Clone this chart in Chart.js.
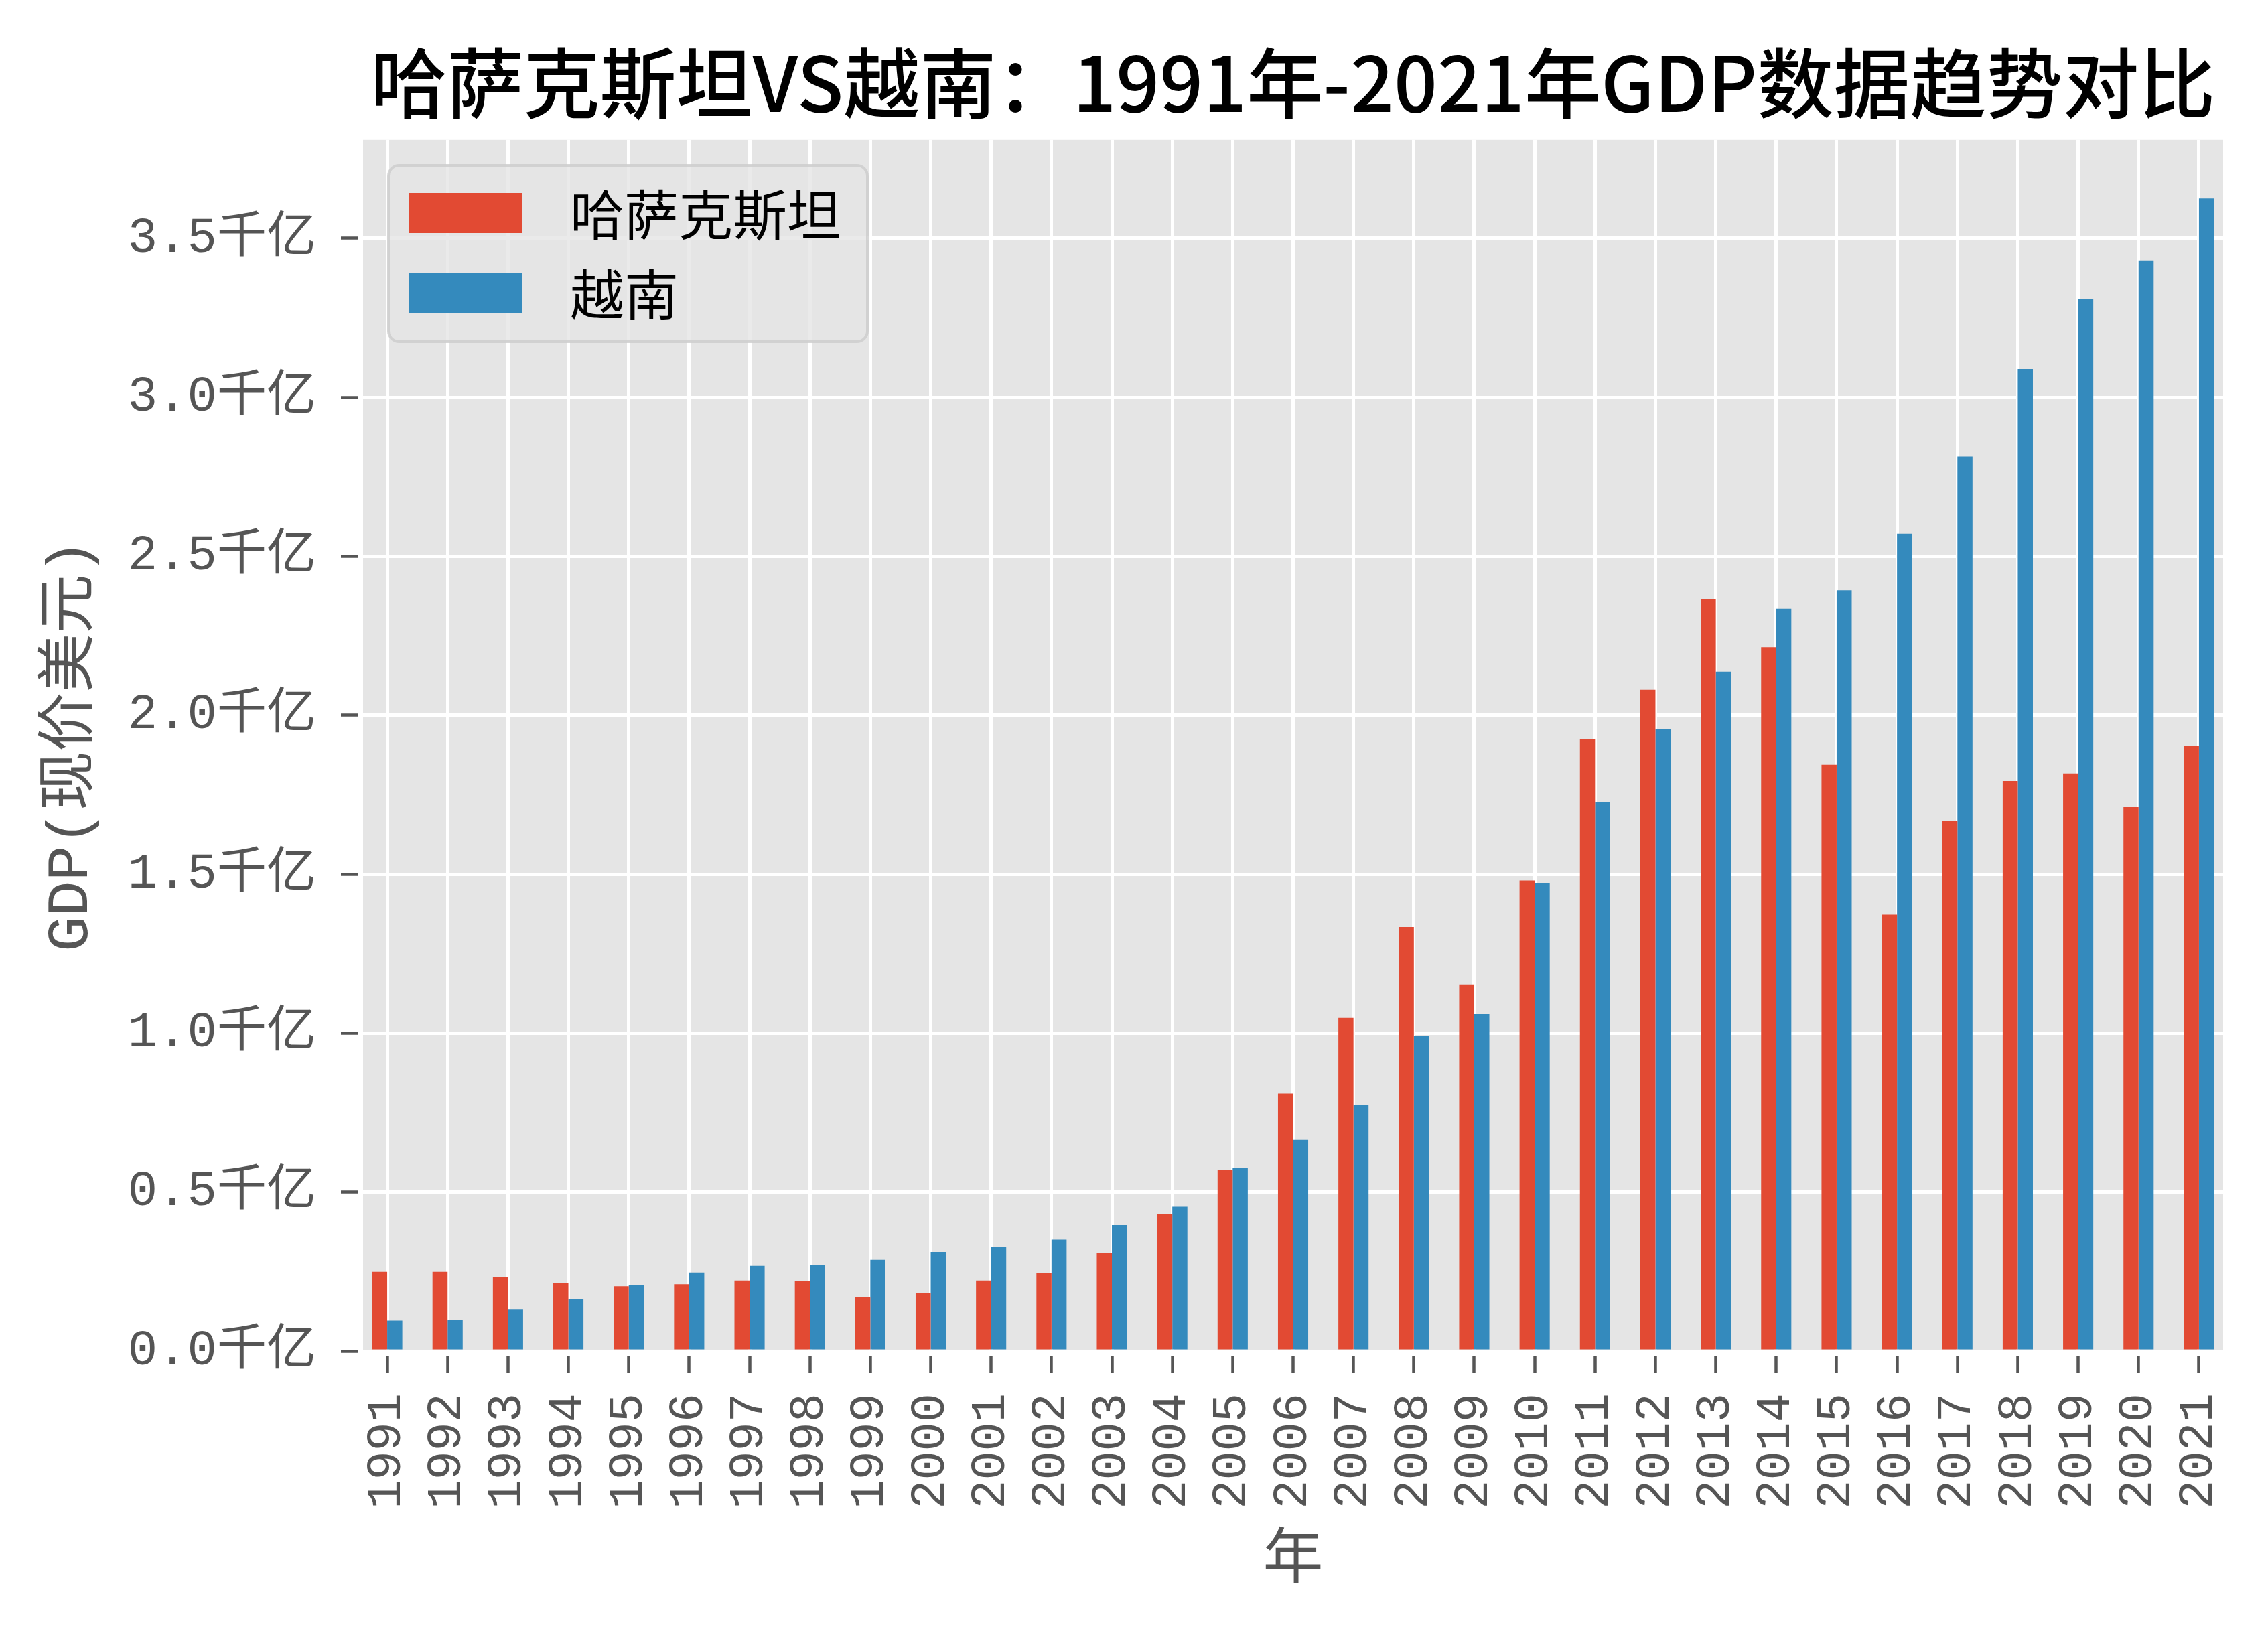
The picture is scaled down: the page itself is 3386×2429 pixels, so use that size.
<!DOCTYPE html>
<html><head><meta charset="utf-8">
<script src="https://cdn.jsdelivr.net/npm/chart.js@4.4.0/dist/chart.umd.min.js"></script>
<style>html,body{margin:0;padding:0;background:#fff;overflow:hidden;}</style>
</head><body>
<canvas id="c" width="3386" height="2429"></canvas>
<script>
const years = [1991,1992,1993,1994,1995,1996,1997,1998,1999,2000,2001,2002,2003,2004,2005,2006,2007,2008,2009,2010,2011,2012,2013,2014,2015,2016,2017,2018,2019,2020,2021];
// GDP in 千亿 (100 billion) current USD
const kazakhstan = [0.249,0.249,0.234,0.213,0.204,0.210,0.222,0.221,0.169,0.183,0.222,0.246,0.308,0.432,0.571,0.810,1.048,1.334,1.153,1.480,1.926,2.080,2.366,2.214,1.844,1.373,1.668,1.793,1.817,1.711,1.905];
const vietnam = [0.096,0.099,0.132,0.163,0.207,0.247,0.268,0.272,0.287,0.312,0.327,0.351,0.396,0.454,0.576,0.664,0.774,0.991,1.060,1.472,1.726,1.956,2.137,2.335,2.393,2.571,2.814,3.089,3.308,3.431,3.626];
const yTicks = [0,0.5,1.0,1.5,2.0,2.5,3.0,3.5];
const seriesNames = ['哈萨克斯坦','越南'];
const titleText = '哈萨克斯坦VS越南：1991年-2021年GDP数据趋势对比';
const yAxisTitle = 'GDP(现价美元)';
const xAxisTitle = '年';

const FONT = '"Noto Sans CJK SC", "Noto Sans", sans-serif';
const MONO = '"Liberation Mono", "Noto Sans CJK SC", monospace';
const RED = '#E24A33', BLUE = '#348ABD';

const bgLegend = {
  id: 'bgLegend',
  beforeDraw(chart) {
    const {ctx, chartArea: a} = chart;
    ctx.save();
    ctx.fillStyle = '#ffffff';
    ctx.fillRect(0, 0, chart.width, chart.height);
    ctx.fillStyle = '#E5E5E5';
    ctx.fillRect(a.left, a.top, a.right - a.left, a.bottom - a.top);
    ctx.restore();
  },
  afterDatasetsDraw(chart) {
    const ctx = chart.ctx;
    ctx.save();
    const x = 580, y = 247, w = 715, h = 263, r = 16;
    ctx.beginPath();
    ctx.roundRect(x, y, w, h, r);
    ctx.fillStyle = 'rgba(229,229,229,0.8)';
    ctx.fill();
    ctx.lineWidth = 4;
    ctx.strokeStyle = 'rgba(204,204,204,0.8)';
    ctx.stroke();
    const rows = [318, 437];
    chart.data.datasets.forEach((ds, i) => {
      ctx.fillStyle = ds.backgroundColor;
      ctx.fillRect(611, rows[i] - 30, 168, 60);
      ctx.fillStyle = '#000';
      ctx.font = '81px ' + FONT;
      ctx.textBaseline = 'middle';
      ctx.textAlign = 'left';
      ctx.fillText(ds.label, 851, rows[i] + 2);
    });
    ctx.restore();
  }
};

new Chart(document.getElementById('c'), {
  type: 'bar',
  data: {
    datasets: [
      {label: seriesNames[0], data: years.map((yr, i) => ({x: i, y: kazakhstan[i]})), backgroundColor: RED},
      {label: seriesNames[1], data: years.map((yr, i) => ({x: i, y: vietnam[i]})), backgroundColor: BLUE}
    ]
  },
  options: {
    responsive: false,
    devicePixelRatio: 1,
    animation: false,
    categoryPercentage: 0.5,
    barPercentage: 1.0,
    layout: {padding: {top: 0, right: 67, left: 0, bottom: 0}},
    plugins: {
      legend: {display: false},
      tooltip: {enabled: false},
      title: {
        display: true, text: titleText, fullSize: false, color: '#000',
        font: {family: FONT, size: 114, weight: 500, lineHeight: 1.2},
        padding: {top: 55, bottom: 17}
      }
    },
    scales: {
      x: {
        type: 'linear', min: -0.4, max: 30.4, offset: false,
        afterBuildTicks: (s) => { s.ticks = years.map((_, i) => ({value: i})); },
        afterFit: (s) => { s.height = 412; s.paddingLeft = 0; s.paddingRight = 0; },
        grid: {offset: false, color: '#ffffff', lineWidth: 5, drawTicks: true, tickLength: 33, tickColor: '#555555', tickWidth: 4.5, tickBorderDash: [25, 8], tickBorderDashOffset: 25},
        border: {display: false},
        ticks: {autoSkip: false, maxRotation: 90, minRotation: 90, padding: 30, color: '#555555', font: {family: MONO, size: 72},
          callback: (v) => Number.isInteger(v) ? String(years[v]) : ''},
        title: {display: true, text: xAxisTitle, color: '#555555', font: {family: FONT, size: 90, lineHeight: 1.2}, padding: {top: 0, bottom: 54}}
      },
      y: {
        min: 0, max: 3.81,
        afterBuildTicks: (s) => { s.ticks = yTicks.map(v => ({value: v})); },
        afterFit: (s) => { s.width = 542; },
        grid: {color: '#ffffff', lineWidth: 5, drawTicks: true, tickLength: 33, tickColor: '#555555', tickWidth: 4.5, tickBorderDash: [25, 50]},
        border: {display: false},
        ticks: {padding: 37, color: '#555555', font: {family: MONO, size: 74},
          callback: (v) => v.toFixed(1) + '千亿'},
        title: {display: true, text: yAxisTitle, color: '#555555', font: {family: MONO, size: 88, lineHeight: 1.2}, padding: {top: 54, bottom: 0}}
      }
    }
  },
  plugins: [bgLegend]
});
</script>
</body></html>
